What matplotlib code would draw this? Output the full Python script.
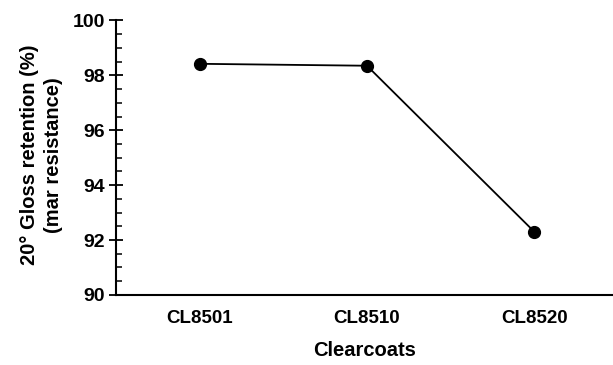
import matplotlib
matplotlib.use("Agg")
import matplotlib.pyplot as plt
from matplotlib.ticker import MultipleLocator

plt.rcParams['font.family'] = ['Liberation Sans', 'DejaVu Sans']
plt.rcParams['font.weight'] = 'bold'

clearcoats = ["CL8501", "CL8510", "CL8520"]
gloss_retention = [98.42, 98.35, 92.3]

fig = plt.figure(figsize=(6.13, 3.65), dpi=100)
ax = fig.add_axes([0.189, 0.192, 0.811, 0.752])

x = list(range(len(clearcoats)))
ax.plot(x, gloss_retention, color='black', linewidth=1.3, marker='o', markersize=8.5)

ax.set_xlim(-0.5, 2.47)
ax.set_ylim(90, 100)
ax.set_xticks(x)
ax.set_xticklabels(clearcoats, fontsize=13.5, fontweight='bold')
ax.yaxis.set_major_locator(MultipleLocator(2))
ax.yaxis.set_minor_locator(MultipleLocator(0.5))
ax.tick_params(axis='y', which='major', direction='inout', length=10, width=1.3, labelsize=14, pad=3)
ax.tick_params(axis='y', which='minor', direction='in', length=4, width=1.1)
ax.tick_params(axis='x', which='major', length=0, pad=11, labelsize=13.5)
for lab in ax.get_yticklabels():
    lab.set_fontweight('bold')

ax.spines['top'].set_visible(False)
ax.spines['right'].set_visible(False)
ax.spines['left'].set_linewidth(1.5)
ax.spines['bottom'].set_linewidth(1.5)

ax.set_xlabel("Clearcoats", fontsize=14.5, fontweight='bold', labelpad=10)
ax.set_ylabel("20° Gloss retention (%)\n(mar resistance)", fontsize=14.5, fontweight='bold',
              linespacing=1.3)
ax.yaxis.set_label_coords(-0.107, 0.51)

fig.savefig("out.png", dpi=100)
